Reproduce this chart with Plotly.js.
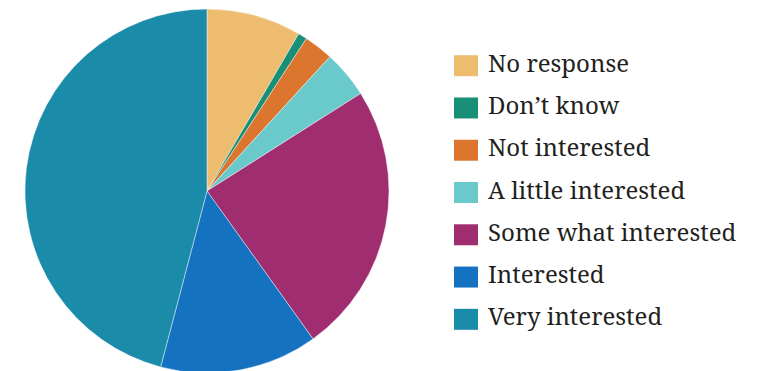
<!DOCTYPE html>
<html>
<head>
<meta charset="utf-8">
<script src="https://cdn.plot.ly/plotly-3.0.1.min.js"></script>
<style>
html,body{margin:0;padding:0;overflow:hidden;background:#fff;}
#chart{width:769px;height:373px;}
</style>
</head>
<body>
<div id="chart"></div>
<script>
const categories = ["No response", "Don\u2019t know", "Not interested", "A little interested", "Some what interested", "Interested", "Very interested"];
const shares = [8.4, 0.8, 2.6, 4.2, 24.1, 14.0, 45.9];
const colors = ["#EEBC6F", "#1A8F77", "#DC762E", "#69C9CB", "#A02D6F", "#1572C0", "#1A8BA9"];

const W = 769, H = 373, TOP = 9;
const plotH = H - TOP;
const px = x => x / W;
const py = y => (H - y) / plotH;

const shapes = [], annotations = [];
categories.forEach((c, i) => {
  const cy = 65.7 + 42.27 * i;
  shapes.push({type: 'rect', xref: 'paper', yref: 'paper',
    x0: px(454), x1: px(478), y0: py(cy + 10.5), y1: py(cy - 10.5),
    fillcolor: colors[i], line: {width: 0}});
  annotations.push({xref: 'paper', yref: 'paper', x: px(486), y: py(cy - 3.5),
    xanchor: 'left', yanchor: 'middle', showarrow: false, text: c,
    font: {family: 'Noto Serif', size: 24, color: '#231F20'}});
});

const data = [{
  type: 'pie',
  labels: categories,
  values: shares,
  sort: false,
  direction: 'clockwise',
  rotation: 0,
  textinfo: 'none',
  marker: {colors: colors, line: {color: 'rgba(255,255,255,0.7)', width: 0.6}},
  domain: {x: [0, 414 / W], y: [0, 1]},
  showlegend: false
}];

const layout = {
  width: W, height: H,
  margin: {l: 0, r: 0, t: TOP, b: 0, pad: 0},
  paper_bgcolor: '#fff',
  showlegend: false,
  shapes: shapes,
  annotations: annotations
};

Plotly.newPlot('chart', data, layout, {displayModeBar: false, staticPlot: true});
</script>
</body>
</html>
